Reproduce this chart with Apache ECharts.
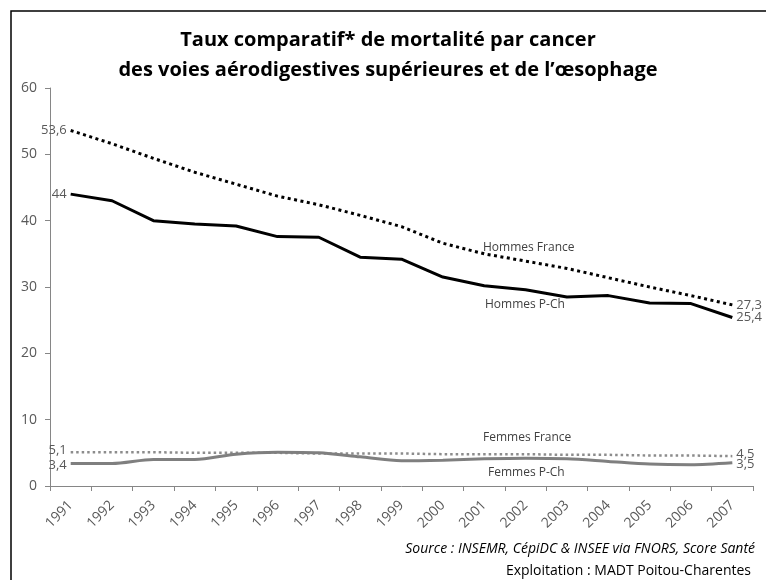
<!DOCTYPE html>
<html>
<head>
<meta charset="utf-8">
<script src="https://cdn.jsdelivr.net/npm/echarts@6/dist/echarts.min.js"></script>
<style>
  html, body { margin: 0; padding: 0; background: #fff; }
  #main { width: 766px; height: 580px; }
</style>
</head>
<body>
<div id="main"></div>
<script>
var years = ['1991','1992','1993','1994','1995','1996','1997','1998','1999','2000','2001','2002','2003','2004','2005','2006','2007'];
var hommesFrance = [53.6, 51.6, 49.4, 47.3, 45.5, 43.7, 42.4, 40.8, 39.1, 36.6, 35.0, 33.9, 32.8, 31.4, 30.0, 28.7, 27.3];
var hommesPCh    = [44, 43.0, 40.0, 39.5, 39.2, 37.6, 37.5, 34.5, 34.2, 31.5, 30.2, 29.6, 28.5, 28.7, 27.6, 27.5, 25.4];
var femmesFrance = [5.1, 5.1, 5.1, 5.0, 5.0, 5.0, 4.9, 4.9, 4.9, 4.8, 4.8, 4.8, 4.7, 4.7, 4.6, 4.6, 4.5];
var femmesPCh    = [3.4, 3.4, 4.0, 4.0, 4.8, 5.1, 5.0, 4.4, 3.8, 3.9, 4.1, 4.2, 4.1, 3.7, 3.3, 3.2, 3.5];
var yTicks = [0, 10, 20, 30, 40, 50, 60];

var font = '"Open Sans", sans-serif';
var txtColor = '#595959';

// only the first and last points carry a value label
function endLabels(arr) {
	return arr.map(function(v, i) {
		var d = { value: v };
		if (i === 0) d.label = { show: true, position: 'left', distance: 4 };
		else if (i === arr.length - 1) d.label = { show: true, position: 'right', distance: 4 };
		return d;
	});
}
function fr(p) { return String(p.value).replace('.', ','); }

var chart = echarts.init(document.getElementById('main'));
var option = {
	backgroundColor: '#fff',
	animation: false,
	title: {
		text: 'Taux comparatif* de mortalité par cancer\ndes voies aérodigestives supérieures et de l’œsophage',
		left: 383,
		textAlign: 'center',
		top: 20,
		textStyle: { fontFamily: font, fontWeight: 'bold', fontSize: 20, lineHeight: 30, color: '#000' }
	},
	grid: { left: 50, right: 13, top: 88, bottom: 94 },
	xAxis: {
		type: 'category',
		data: years,
		boundaryGap: true,
		axisLine: { lineStyle: { color: '#868686', width: 1 } },
		axisTick: { show: true, length: 5, lineStyle: { color: '#868686' } },
		axisLabel: { rotate: 45, color: txtColor, fontFamily: font, fontSize: 14, margin: 17, interval: 0 }
	},
	yAxis: {
		type: 'value',
		min: 0, max: 60, interval: 10,
		splitLine: { show: false },
		axisLine: { show: true, lineStyle: { color: '#868686', width: 1 } },
		axisTick: { show: true, length: 5, lineStyle: { color: '#868686' } },
		axisLabel: { color: txtColor, fontFamily: font, fontSize: 14, margin: 13,
			customValues: yTicks }
	},
	series: [
		{
			name: 'Hommes France', type: 'line', data: endLabels(hommesFrance),
			symbol: 'circle', symbolSize: 0, showSymbol: true,
			lineStyle: { color: '#000', width: 3, type: [3, 3.5] },
			label: { color: txtColor, fontFamily: font, fontSize: 13, formatter: fr }
		},
		{
			name: 'Hommes P-Ch', type: 'line', data: endLabels(hommesPCh),
			symbol: 'circle', symbolSize: 0, showSymbol: true,
			lineStyle: { color: '#000', width: 3 },
			label: { color: txtColor, fontFamily: font, fontSize: 13, formatter: fr }
		},
		{
			name: 'Femmes France', type: 'line', data: endLabels(femmesFrance),
			symbol: 'circle', symbolSize: 0, showSymbol: true,
			lineStyle: { color: '#8c8c8c', width: 2.5, type: [2.5, 3] },
			label: { color: txtColor, fontFamily: font, fontSize: 13, offset: [0, -2], formatter: fr }
		},
		{
			name: 'Femmes P-Ch', type: 'line', data: endLabels(femmesPCh),
			symbol: 'circle', symbolSize: 0, showSymbol: true, smooth: 0.3,
			lineStyle: { color: '#7f7f7f', width: 3 },
			label: { color: txtColor, fontFamily: font, fontSize: 13, offset: [0, 2], formatter: fr }
		}
	],
	graphic: [
		{ type: 'rect', shape: { x: 11, y: 11, width: 800, height: 620 }, style: { fill: 'none', stroke: '#000', lineWidth: 1.5 }, silent: true },
		{ type: 'text', left: 483, top: 242, style: { text: 'Hommes France', fill: '#404040', font: '12px ' + font } },
		{ type: 'text', left: 485, top: 299, style: { text: 'Hommes P-Ch', fill: '#404040', font: '12px ' + font } },
		{ type: 'text', left: 483, top: 432, style: { text: 'Femmes France', fill: '#404040', font: '12px ' + font } },
		{ type: 'text', left: 488, top: 467, style: { text: 'Femmes P-Ch', fill: '#404040', font: '12px ' + font } },
		{ type: 'text', right: 11, top: 542, style: { text: 'Source : INSEMR, CépiDC & INSEE via FNORS, Score Santé', fill: '#000', font: 'italic 14px ' + font } },
		{ type: 'text', right: 15, top: 564, style: { text: 'Exploitation : MADT Poitou-Charentes', fill: '#000', font: '14px ' + font } }
	]
};
chart.setOption(option, true);
</script>
</body>
</html>
